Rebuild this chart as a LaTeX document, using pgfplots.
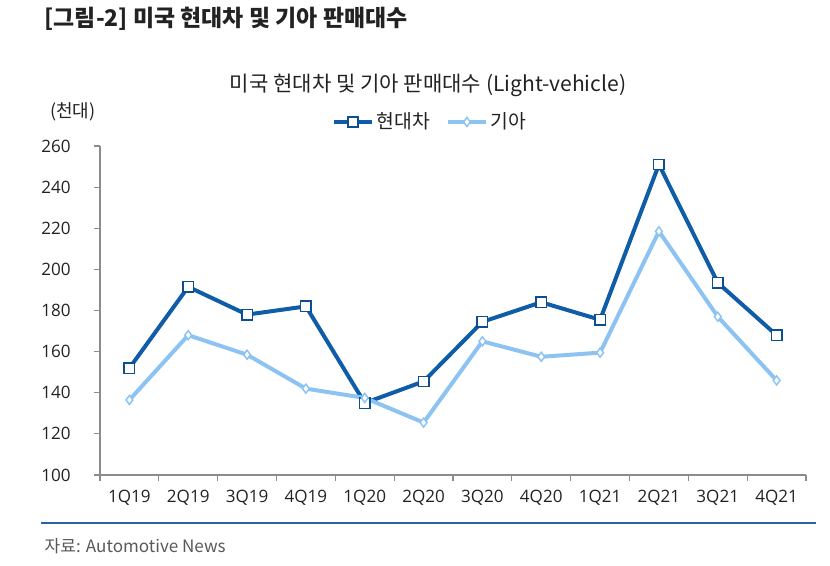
\documentclass[border=0pt]{standalone}
\usepackage{fontspec}
\usepackage{pgfplots}
\pgfplotsset{compat=1.18}
\setmainfont{Open Sans}
\newfontfamily\kr{Noto Sans CJK KR}
\definecolor{hd}{HTML}{0F5CA8}
\definecolor{kia}{HTML}{8CC3F2}
\definecolor{rule}{HTML}{2A62A6}
\definecolor{axgray}{HTML}{8C8C8C}
\definecolor{txt}{HTML}{222222}
\begin{document}
\begin{tikzpicture}
\path[use as bounding box] (0,0) rectangle (622.5pt,-424.5pt);
\begin{axis}[
  at={(75pt,-356.25pt)}, anchor=south west,
  scale only axis, width=529.5pt, height=246.75pt,
  xmin=-0.5, xmax=11.5, ymin=100, ymax=260,
  ytick={100,120,...,260},
  xtick={-0.5,0.5,...,11.5},
  x tick label as interval,
  xticklabels={1Q19,2Q19,3Q19,4Q19,1Q20,2Q20,3Q20,4Q20,1Q21,2Q21,3Q21,4Q21},
  axis lines*=left,
  axis line style={draw=axgray, line width=0.8pt},
  every tick/.style={draw=axgray, line width=0.8pt},
  tick align=outside, major tick length=4.5pt,
  /pgf/number format/assume math mode=true,
  tick label style={font=\fontsize{12.8}{14}\selectfont, text=txt},
  every y tick label/.append style={anchor=east, xshift=-14pt},
  xticklabel style={yshift=-3pt},
  clip=false,
  legend columns=2,
  legend style={draw=none, fill=none, at={(0.468,1.073)}, anchor=center,
    font=\kr\fontsize{14.5}{16}\selectfont, text=txt,
    /tikz/every even column/.append style={column sep=10pt}},
  legend image code/.code={\draw[mark repeat=2,mark phase=2] plot coordinates {(0cm,0cm) (0.5cm,0cm) (1.0cm,0cm)};},
]
\addplot[hd, line width=3pt, mark=square*, mark size=3.9pt,
  mark options={fill=white, draw=hd!85!black, line width=1.1pt}]
  coordinates {(0,152) (1,191.5) (2,178) (3,182) (4,135) (5,145.5) (6,174.5) (7,184) (8,175.5) (9,251) (10,193.5) (11,168)};
\addlegendentry{현대차}
\addplot[kia, line width=3pt, mark=diamond*, mark size=3.4pt,
  mark options={fill=white, draw=kia, line width=1.1pt}]
  coordinates {(0,136.5) (1,168) (2,158.5) (3,142) (4,137.5) (5,125.5) (6,165) (7,157.5) (8,159.5) (9,218.5) (10,177) (11,146)};
\addlegendentry{기아}
\end{axis}
\node[anchor=west, text=txt, font=\kr\bfseries\fontsize{17.2}{19}\selectfont] at (30pt,-14pt) {[그림-2] 미국 현대차 및 기아 판매대수};
\node[anchor=center, text=txt, font=\kr\fontsize{15.8}{18}\selectfont] at (321pt,-64pt) {미국 현대차 및 기아 판매대수 (Light-vehicle)};
\node[anchor=west, text=txt, font=\kr\fontsize{13.5}{15}\selectfont] at (34pt,-84pt) {(천대)};
\draw[rule, line width=1.6pt] (31pt,-392.5pt) -- (612pt,-392.5pt);
\node[anchor=west, text=black!65, font=\kr\fontsize{12.8}{15}\selectfont] at (30pt,-409.5pt) {자료: Automotive News};
\end{tikzpicture}
\end{document}
